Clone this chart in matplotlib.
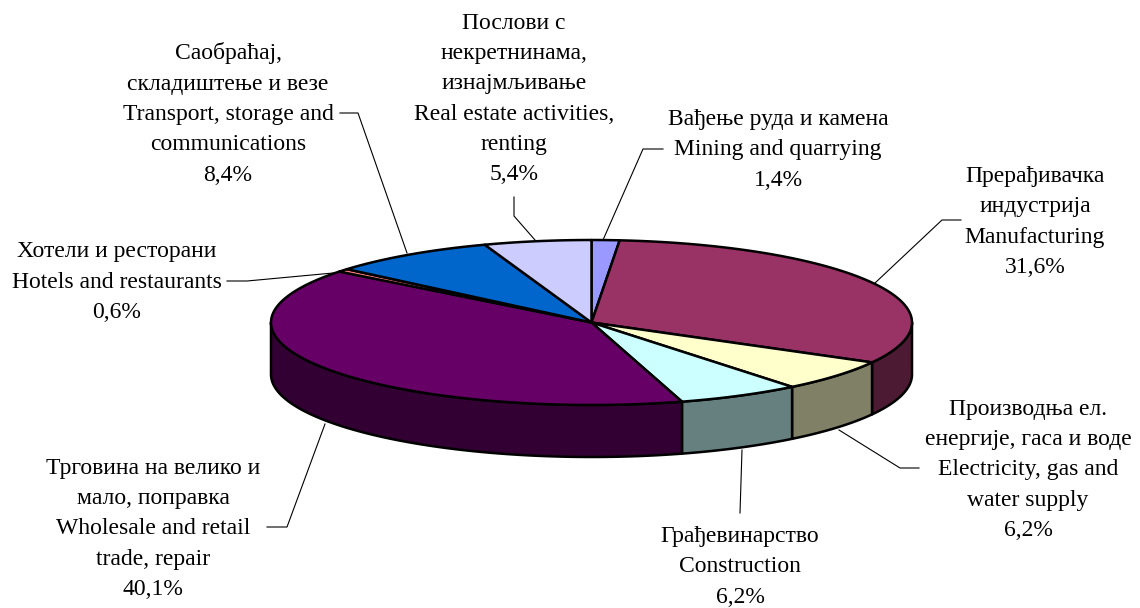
import numpy as np
import matplotlib
matplotlib.use("Agg")
import matplotlib.pyplot as plt

plt.rcParams['font.family'] = ['Liberation Serif', 'DejaVu Serif']

# data
labels = [
    "Вађење руда и камена\nMining and quarrying",
    "Прерађивачка\nиндустрија\nManufacturing",
    "Производња ел.\nенергије, гаса и воде\nElectricity, gas and\nwater supply",
    "Грађевинарство\nConstruction",
    "Трговина на велико и\nмало, поправка\nWholesale and retail\ntrade, repair",
    "Хотели и ресторани\nHotels and restaurants",
    "Саобраћај,\nскладиштење и везе\nTransport, storage and\ncommunications",
    "Послови с\nнекретнинама,\nизнајмљивање\nReal estate activities,\nrenting",
]
shares = [1.4, 31.6, 6.2, 6.2, 40.1, 0.6, 8.4, 5.4]
top_colors = ["#9999FF", "#993366", "#FFFFCC", "#CCFFFF", "#660066", "#FF8080", "#0066CC", "#CCCCFF"]
side_colors = ["#4D4D80", "#4D1A33", "#808066", "#668080", "#330033", "#804040", "#003366", "#666680"]

# layout, in pixels of the picture
cx, cy = 591.5, 322.5
rx, ry = 320.5, 82.5
depth = 52
label_x = [778, 1035, 1028, 740, 153, 117, 228, 514]
label_y = [150, 222, 470, 567, 529, 282, 114, 99]
leaders = [
    [(603, 240), (643, 149), (663, 149)],
    [(875, 283), (942, 220), (961, 220)],
    [(839, 430), (900, 468), (919, 468)],
    [(742, 450), (740, 513)],
    [(325, 424), (287, 527), (267, 527)],
    [(344, 272), (247, 281), (227, 281)],
    [(407, 253), (358, 113), (340, 113)],
    [(535, 240), (514, 216), (514, 197)],
]


def ellipse_xy(deg):
    # angle runs clockwise from the top of the pie
    a = np.radians(deg)
    return cx + rx * np.sin(a), cy - ry * np.cos(a)


fig = plt.figure(figsize=(11.4, 6.08), dpi=100)
ax = fig.add_axes([0, 0, 1, 1])
ax.set_xlim(0, 1140)
ax.set_ylim(608, 0)
ax.axis("off")

edges = np.concatenate([[0], np.cumsum(shares)]) / sum(shares) * 360

for i in range(len(shares)):
    start, end = edges[i], edges[i + 1]

    # side wall, only the front half of the pie shows
    s, e = max(start, 90), min(end, 270)
    if e > s:
        t = np.linspace(s, e, 80)
        x, y = ellipse_xy(t)
        ax.fill(np.r_[x, x[::-1]], np.r_[y, y[::-1] + depth], facecolor=side_colors[i],
                edgecolor="black", linewidth=1.8, joinstyle="round", zorder=2)

    t = np.linspace(start, end, 120)
    x, y = ellipse_xy(t)
    ax.fill(np.r_[cx, x], np.r_[cy, y], facecolor=top_colors[i],
            edgecolor="black", linewidth=1.8, joinstyle="round", zorder=3)

for pts in leaders:
    xs, ys = zip(*pts)
    ax.plot(xs, ys, color="black", linewidth=0.8, zorder=1)

for i, lab in enumerate(labels):
    pct = f"{shares[i]:.1f}%".replace(".", ",")
    ax.text(label_x[i], label_y[i], lab + "\n" + pct, ha="center", va="center",
            multialignment="center", fontsize=17, linespacing=1.58, color="black", zorder=4)

fig.savefig("out.png", dpi=100)
